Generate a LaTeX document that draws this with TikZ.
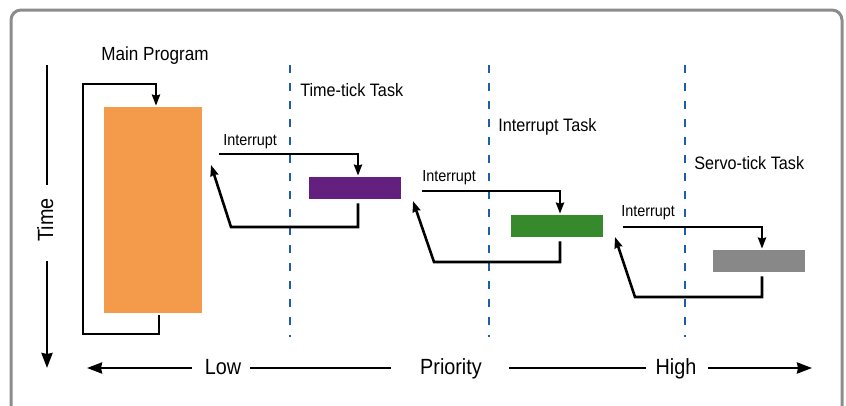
\documentclass[tikz,border=0pt]{standalone}
\usepackage{fontspec}
\setmainfont{Liberation Sans}[FakeStretch=0.9]
\usetikzlibrary{arrows.meta}
\definecolor{prgorange}{HTML}{F39A4B}
\definecolor{tickpurple}{HTML}{63207E}
\definecolor{irqgreen}{HTML}{368A2B}
\definecolor{servogray}{HTML}{888888}
\definecolor{lineblue}{HTML}{1F5DA8}
\definecolor{framegray}{HTML}{8C8C8C}

\begin{document}
\begin{tikzpicture}
  [x=1pt,y=-1pt,line width=2.6pt,every node/.style={inner sep=0pt},
   >={Stealth[length=11pt,width=8pt,inset=1pt]}]
  \tikzstyle{task} = [rectangle,minimum width=92pt,minimum height=22pt]
  \tikzstyle{lbl} = [anchor=west,font=\fontsize{18}{18}\selectfont]
  \tikzstyle{irq} = [anchor=west,font=\fontsize{16}{16}\selectfont]
  \tikzstyle{axis} = [font=\fontsize{22}{22}\selectfont,text height=16pt,text depth=4pt]
  \tikzstyle{bigtip} = [-{Stealth[length=15pt,width=11pt,inset=1pt]}]
  \useasboundingbox (0,0) rectangle (846,405);
  \clip (0,0) rectangle (846,405);
  \draw[framegray,line width=3pt,rounded corners=10pt] (11,10) rectangle (842,440);

  % priority levels
  \foreach \x in {290,489,685}
    \draw[lineblue,line width=2.8pt,dash pattern=on 8pt off 10pt] (\x,65) -- (\x,337);

  % tasks
  \node[fill=prgorange,minimum width=98pt,minimum height=206pt] (main) at (153,210) {};
  \node[task,fill=tickpurple] (tt) at (355,188) {};
  \node[task,fill=irqgreen] (it) at (557,226) {};
  \node[task,fill=servogray] (st) at (759,261) {};

  \node[font=\fontsize{19}{19}\selectfont] (mp) at (155,56) {Main Program};
  \node[lbl] (ttl) at (299,90) {Time-tick Task};
  \node[lbl] (itl) at (497,127) {Interrupt Task};
  \node[lbl] (stl) at (693,163) {Servo-tick Task};

  \node[irq] (irq1) at (222,142) {Interrupt};
  \node[irq] (irq2) at (421,178) {Interrupt};
  \node[irq] (irq3) at (620,213) {Interrupt};

  % main loop
  \coordinate (m1) at (83,334);
  \coordinate (m2) at (83,84);
  \draw[->] ([xshift=6pt,yshift=-1pt]main.south) |- (m1) -- (m2) -| ([xshift=3pt]main.north);

  % interrupts and returns
  \coordinate (i1) at (219,154);
  \coordinate (i2) at (422,191);
  \coordinate (i3) at (623,227);
  \coordinate (r1) at (231,227);
  \coordinate (r2) at (434,262);
  \coordinate (r3) at (635,297);
  \coordinate (t1) at (211,165);
  \coordinate (t2) at (413,201);
  \coordinate (t3) at (615,237);
  \foreach \src/\dest/\ret/\tipc in {i1/tt/r1/t1,i2/it/r2/t2,i3/st/r3/t3} {
    \draw[->] (\src) -| ([xshift=3pt]\dest.north);
    \draw[->] ([xshift=3pt,yshift=-3pt]\dest.south) |- (\ret) -- (\tipc);
  }

  % time axis
  \node[axis,rotate=90] (time) at (47,220) {Time};
  \coordinate (ttop) at (47,65);
  \coordinate (tbot) at (47,368);
  \draw[shorten >=12pt] (ttop) -- (time.east);
  \draw[bigtip,shorten <=18pt] (time.west) -- (tbot);

  % priority axis
  \node[axis] (low) at (223,368) {Low};
  \node[axis] (prio) at (451,368) {Priority};
  \node[axis] (high) at (676,368) {High};
  \coordinate (pl) at (87,368);
  \coordinate (pr) at (812,368);
  \draw[bigtip,shorten <=12pt] (low.west) -- (pl);
  \draw[shorten <=8pt,shorten >=28pt] (low.east) -- (prio.west);
  \draw[shorten <=26pt,shorten >=8pt] (prio.east) -- (high.west);
  \draw[bigtip,shorten <=10pt] (high.east) -- (pr);
\end{tikzpicture}
\end{document}
